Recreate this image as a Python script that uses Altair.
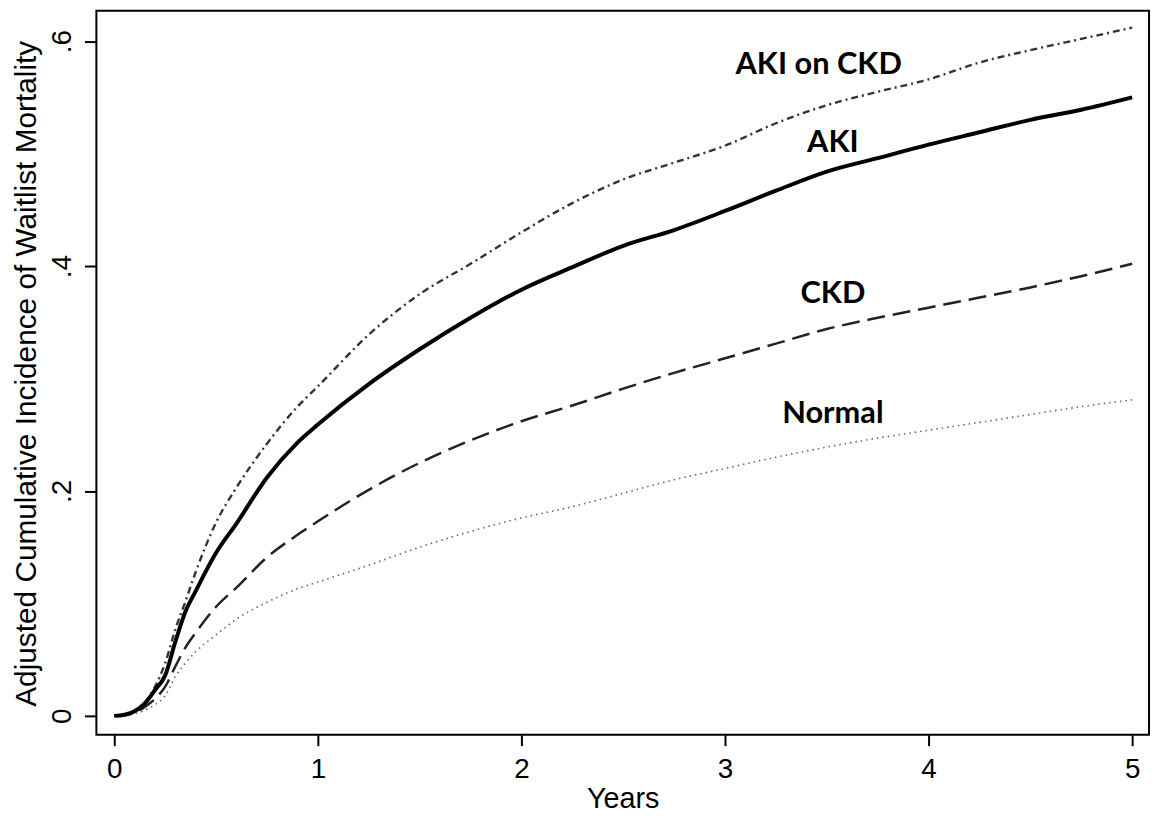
import altair as alt
import pandas as pd

years = [0, 0.05, 0.1, 0.15, 0.2, 0.25, 0.3, 0.35, 0.4, 0.5, 0.6, 0.75, 0.9, 1.0,
         1.25, 1.5, 1.75, 2.0, 2.25, 2.5, 2.75, 3.0, 3.25, 3.5, 3.75, 4.0, 4.25, 4.5, 4.75, 5.0]

aki_on_ckd = [0, 0.001, 0.005, 0.012, 0.026, 0.047, 0.077, 0.102, 0.128, 0.172, 0.203, 0.242, 0.275, 0.293,
              0.339, 0.375, 0.402, 0.430, 0.456, 0.477, 0.492, 0.507, 0.527, 0.543, 0.555, 0.566, 0.581, 0.592, 0.602, 0.612]
aki = [0, 0.001, 0.004, 0.011, 0.023, 0.036, 0.066, 0.093, 0.111, 0.145, 0.171, 0.212, 0.243, 0.259,
       0.295, 0.326, 0.354, 0.379, 0.399, 0.418, 0.432, 0.449, 0.467, 0.484, 0.496, 0.508, 0.519, 0.530, 0.539, 0.550]
ckd = [0, 0.0005, 0.003, 0.008, 0.015, 0.026, 0.044, 0.061, 0.074, 0.097, 0.114, 0.141, 0.161, 0.173,
       0.201, 0.225, 0.245, 0.262, 0.276, 0.291, 0.305, 0.318, 0.331, 0.344, 0.354, 0.363, 0.372, 0.381, 0.391, 0.402]
normal = [0, 0.0003, 0.002, 0.005, 0.010, 0.018, 0.035, 0.047, 0.057, 0.072, 0.086, 0.101, 0.113, 0.119,
          0.134, 0.150, 0.164, 0.176, 0.186, 0.198, 0.210, 0.220, 0.230, 0.239, 0.247, 0.254, 0.261, 0.268, 0.275, 0.281]

groups = ["AKI on CKD", "AKI", "CKD", "Normal"]
label_x = [3.46, 3.53, 3.53, 3.53]
label_y = [0.579, 0.509, 0.375, 0.268]

x_ticks = [0, 1, 2, 3, 4, 5]
y_ticks = [0, 0.2, 0.4, 0.6]

series = {"AKI on CKD": aki_on_ckd, "AKI": aki, "CKD": ckd, "Normal": normal}
rows = []
for g, vals in series.items():
    for t, v in zip(years, vals):
        rows.append({"group": g, "year": t, "value": v})
df = pd.DataFrame(rows)
lab = pd.DataFrame({"group": groups, "x": label_x, "y": label_y})

xscale = alt.Scale(domain=[-0.088, 5.083], nice=False, zero=False)
yscale = alt.Scale(domain=[-0.0168, 0.627], nice=False, zero=False)

xaxis = alt.Axis(values=x_ticks, format="d", title="Years", grid=False, domain=False,
                 tickSize=11, tickWidth=2, tickColor="black",
                 labelFont="Liberation Sans", labelFontSize=28, labelColor="black",
                 labelPadding=10, labelFlush=False,
                 titleFont="Liberation Sans", titleFontSize=29, titleFontWeight="normal",
                 titleColor="black", titleX=530, titleY=64, titleBaseline="middle",
                 titleAlign="center")
yaxis = alt.Axis(values=y_ticks, title="Adjusted Cumulative Incidence of Waitlist Mortality",
                 grid=False, domain=False, tickSize=12, tickWidth=2, tickColor="black",
                 labelExpr="datum.value == 0 ? '0' : replace(format(datum.value, '.1f'), '0.', '.')",
                 labelFont="Liberation Sans", labelFontSize=28, labelColor="black",
                 labelAngle=-90, labelAlign="center", labelBaseline="bottom",
                 labelPadding=8, labelFlush=False,
                 titleFont="Liberation Sans", titleFontSize=30, titleFontWeight="normal",
                 titleColor="black", titleAngle=-90, titleX=-70, titleY=365,
                 titleBaseline="middle", titleAlign="center")

def line(g, color, width, dash=None):
    kw = dict(color=color, strokeWidth=width, clip=True, interpolate="monotone")
    if dash:
        kw["strokeDash"] = dash
    return alt.Chart(df).transform_filter(alt.datum.group == g).mark_line(**kw).encode(
        x=alt.X("year:Q", scale=xscale, axis=xaxis),
        y=alt.Y("value:Q", scale=yscale, axis=yaxis),
    )

lines = [
    line("Normal", "#666666", 1.6, [1.5, 4]),
    line("CKD", "#222222", 2.5, [18, 8]),
    line("AKI on CKD", "#333333", 2.4, [7, 4, 2, 4]),
    line("AKI", "#000000", 4),
]

labels = alt.Chart(lab).mark_text(font="Lato", fontWeight="bold", fontSize=31,
                                  color="black", align="center", baseline="middle").encode(
    x=alt.X("x:Q", scale=xscale),
    y=alt.Y("y:Q", scale=yscale),
    text="group:N",
)

chart = alt.layer(*lines, labels).properties(
    width=1060, height=729,
    background="white",
    autosize=alt.AutoSizeParams(type="none"),
    padding={"left": 89, "top": 0, "right": 6, "bottom": 80},
).configure_view(stroke="black", strokeWidth=2)

chart.save("out.html", embed_options={"renderer": "svg", "actions": False})
